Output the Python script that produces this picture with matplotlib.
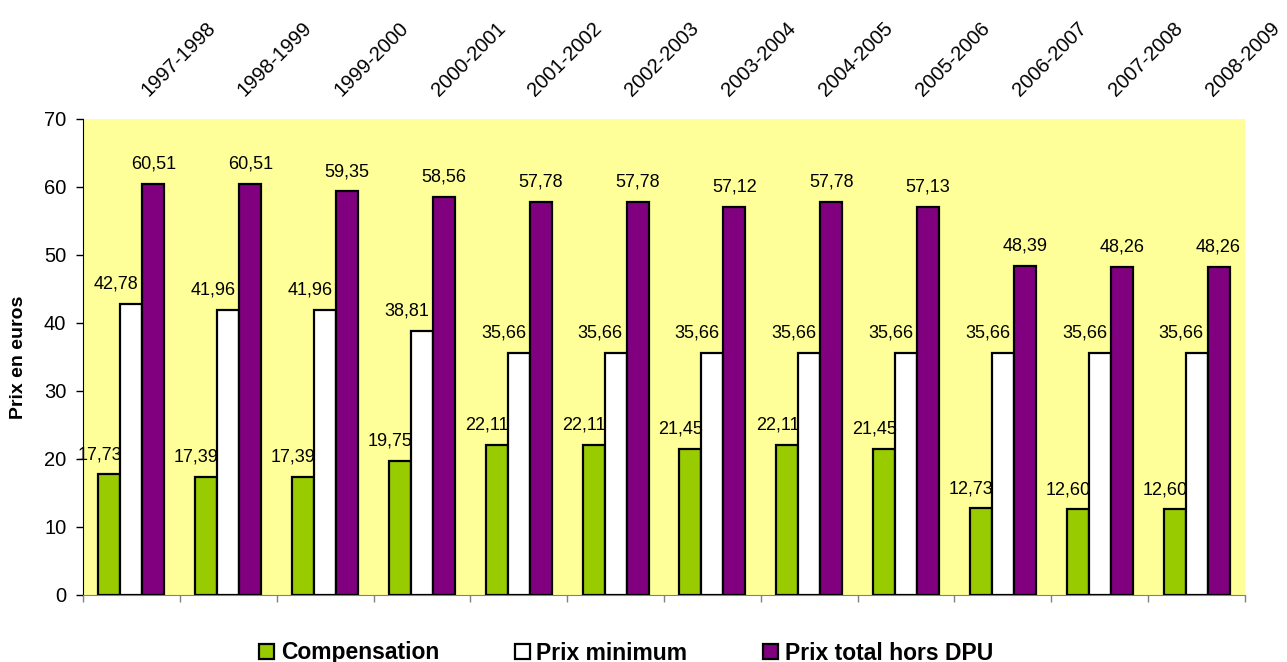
import matplotlib
matplotlib.use("Agg")
import matplotlib.pyplot as plt
import numpy as np
from matplotlib.patches import Patch

categories = ["1997-1998", "1998-1999", "1999-2000", "2000-2001", "2001-2002", "2002-2003",
              "2003-2004", "2004-2005", "2005-2006", "2006-2007", "2007-2008", "2008-2009"]
compensation = [17.73, 17.39, 17.39, 19.75, 22.11, 22.11, 21.45, 22.11, 21.45, 12.73, 12.60, 12.60]
prix_minimum = [42.78, 41.96, 41.96, 38.81, 35.66, 35.66, 35.66, 35.66, 35.66, 35.66, 35.66, 35.66]
prix_total = [60.51, 60.51, 59.35, 58.56, 57.78, 57.78, 57.12, 57.78, 57.13, 48.39, 48.26, 48.26]
series_names = ["Compensation", "Prix minimum", "Prix total hors DPU"]
yticks = [0, 10, 20, 30, 40, 50, 60, 70]

plt.rcParams['font.family'] = ['Liberation Sans', 'DejaVu Sans']

W, H = 1287, 662
fig = plt.figure(figsize=(W / 100, H / 100), dpi=100)
ax = fig.add_axes([83 / W, 1 - 595 / H, (1245 - 83) / W, (595 - 119) / H])
ax.set_facecolor('#FFFF99')

x = np.arange(len(categories))
bw = 0.227
colors = ['#99CC00', '#FFFFFF', '#800080']
label_dx = [-7, -11, 0]
for k, (vals, col) in enumerate(zip([compensation, prix_minimum, prix_total], colors)):
    xs = x + (k - 1) * bw
    ax.bar(xs, vals, width=bw, color=col, edgecolor='black', linewidth=1.6, zorder=3)
    for xi, v in zip(xs, vals):
        ax.annotate(f"{v:.2f}".replace('.', ','), xy=(xi, v), xytext=(label_dx[k], 11),
                    textcoords='offset points', ha='center', va='baseline', fontsize=13,
                    zorder=4)

ax.set_xlim(-0.5, len(categories) - 0.5)
ax.set_ylim(0, 70)
ax.set_yticks(yticks)
ax.set_yticklabels([str(t) for t in yticks], fontsize=14.5)
ax.tick_params(axis='y', direction='out', length=5, width=1, pad=7, color='black')
ax.set_xticks(np.arange(len(categories) + 1) - 0.5)
ax.set_xticklabels([])
ax.tick_params(axis='x', direction='out', length=5, width=1, color='#808080')

for s in ['top', 'right']:
    ax.spines[s].set_visible(False)
ax.spines['left'].set_color('black')
ax.spines['bottom'].set_color('#808080')

for i, c in enumerate(categories):
    ax.annotate(c, xy=(i, 1), xycoords=('data', 'axes fraction'), xytext=(12, 16),
                textcoords='offset points', rotation=45, rotation_mode='anchor',
                ha='left', va='baseline', fontsize=14.5)

ax.set_ylabel("Prix en euros", fontsize=14, fontweight='bold', labelpad=12)

handles = [Patch(facecolor=c, edgecolor='black', linewidth=1.6) for c in colors]
fig.legend(handles, series_names, loc='center', bbox_to_anchor=(626 / W, 1 - 653 / H),
           ncol=3, frameon=False, prop={'weight': 'bold', 'size': 16.5},
           handlelength=0.65, handleheight=0.65, handletextpad=0.3, columnspacing=3.3)

fig.savefig("out.png", dpi=100)
